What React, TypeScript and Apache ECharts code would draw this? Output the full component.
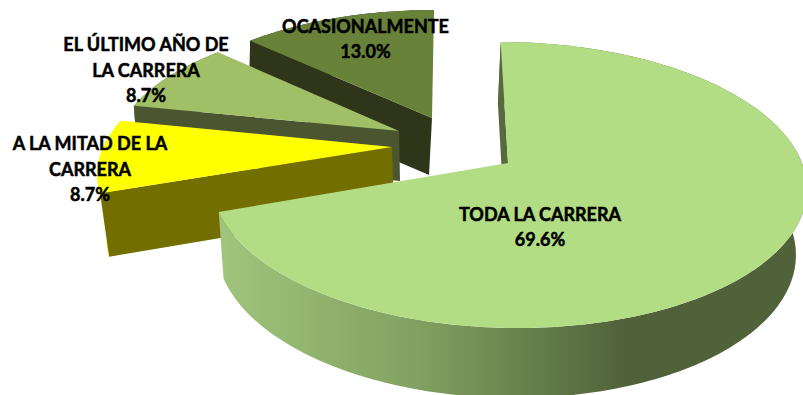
import React, { useEffect, useRef } from "react";
import * as echarts from "echarts";

const categories = ["TODA LA CARRERA", "A LA MITAD DE LA\nCARRERA", "EL ÚLTIMO AÑO DE\nLA CARRERA", "OCASIONALMENTE"];
const values = [69.6, 8.7, 8.7, 13.0];
const topColors = ["#B3DD85", "#FFFF00", "#A0BF66", "#69823A"];
const wallColors = ["#566A3D", "#736E00", "#4B5530", "#2E3518"];
const outerColors = ["#566A3D", "#EDED00", "#4B5530", "#2E3518"];
const labelCenters = [[540, 226.5], [90, 168.5], [146, 69.5], [365.5, 38.5]];

// projection parameters of every exploded slice: vertex, radii, skew, perspective, wall height and drift
const geometry = [
  { px: 508, py: 163, A: 294, B: 139.6, D: 8.4, H: 65, a: -0.027, dx: -3, c: 0.03 },
  { px: 392, py: 147, A: 288.7, B: 132, D: -14, H: 62, a: -0.024, dx: 2, c: 0.03 },
  { px: 399, py: 131, A: 281, B: 127, D: -7, H: 50, a: -0.01, dx: 1, c: 0 },
  { px: 432, py: 118, A: 278, B: 124.6, D: -2.3, H: 57, a: -0.012, dx: -3, c: 0 },
];
const K = 0.154;
const drawOrder = [3, 2, 1, 0];

const total = values.reduce((s, v) => s + v, 0);
const startAngles: number[] = [];
values.reduce((acc, v, i) => {
  startAngles[i] = acc;
  return acc + (v / total) * 360;
}, 0);

function project(i: number, deg: number): [number, number] {
  const g = geometry[i];
  const t = (deg * Math.PI) / 180;
  const u = Math.sin(t);
  const v = -Math.cos(t);
  const s = 1 / (1 - K * v);
  return [g.px + (g.A * u + g.D * v) * s, g.py + g.B * v * s];
}

function drop(i: number, p: number[]): [number, number] {
  const g = geometry[i];
  return [p[0] + (p[0] - g.px) * g.a + g.dx, p[1] + g.H + (p[1] - g.py) * g.c];
}

function renderSlice(_: any, api: any) {
  const i = api.value(0) as number;
  const g = geometry[i];
  const a0 = startAngles[i];
  const a1 = a0 + (values[i] / total) * 360;
  const rim: number[][] = [];
  for (let a = a0; a < a1; a += 1) rim.push(project(i, a));
  rim.push(project(i, a1));
  const vertex = [g.px, g.py];
  const rimLow = rim.map((p) => drop(i, p));
  const wallFill =
    i === 0
      ? new echarts.graphic.LinearGradient(
          222, 0, 625, 0,
          [
            { offset: 0, color: "#A0C47C" },
            { offset: 0.5, color: "#80A05F" },
            { offset: 1, color: "#50623A" },
          ],
          true
        )
      : outerColors[i];
  return {
    type: "group",
    children: [
      {
        type: "polygon",
        shape: { points: [...rim, ...rimLow.slice().reverse()] },
        style: { fill: wallFill },
      },
      {
        type: "polygon",
        shape: { points: [rim[0], vertex, drop(i, vertex), rimLow[0]] },
        style: { fill: wallColors[i] },
      },
      {
        type: "polygon",
        shape: { points: [...rim, vertex] },
        style: { fill: topColors[i] },
      },
    ],
  };
}

function renderLabel(_: any, api: any) {
  const i = api.value(0) as number;
  const c = labelCenters[i];
  return {
    type: "text",
    x: c[0],
    y: c[1],
    style: {
      text: `${categories[i]}\n${values[i].toFixed(1)}%`,
      fill: "#000000",
      font: "bold 18px Lato",
      lineHeight: 25.5,
      align: "center",
      verticalAlign: "middle",
      stroke: "#000000",
      lineWidth: 0.5,
    },
  };
}

export default function App() {
  const ref = useRef<HTMLDivElement>(null);
  useEffect(() => {
    document.body.style.margin = "0";
    const chart = echarts.init(ref.current!, undefined, { renderer: "svg" });
    chart.setOption({
      animation: false,
      backgroundColor: "#FFFFFF",
      series: [
        {
          type: "custom",
          coordinateSystem: "none",
          silent: true,
          z: 2,
          data: drawOrder.map((d) => [d]),
          renderItem: renderSlice,
        },
        {
          type: "custom",
          coordinateSystem: "none",
          silent: true,
          z: 3,
          data: drawOrder.map((d) => [d]),
          renderItem: renderLabel,
        },
      ],
    });
    return () => chart.dispose();
  }, []);
  return <div ref={ref} style={{ width: 803, height: 395 }} />;
}
